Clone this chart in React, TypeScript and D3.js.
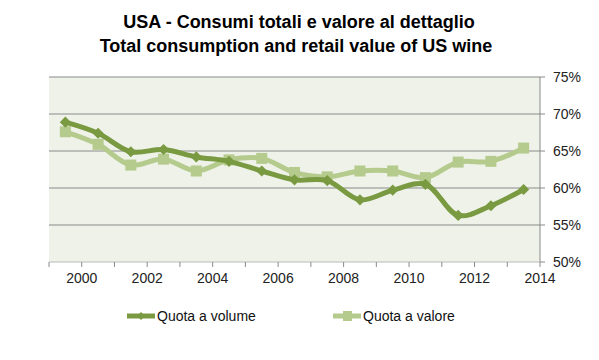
import React from "react";
import * as d3 from "d3";

// years (points sit in the middle of each year band)
const years = [1999, 2000, 2001, 2002, 2003, 2004, 2005, 2006, 2007, 2008, 2009, 2010, 2011, 2012, 2013];
const volume = [68.9, 67.4, 64.9, 65.2, 64.2, 63.6, 62.3, 61.1, 61.0, 58.4, 59.7, 60.5, 56.3, 57.6, 59.8];
const value = [67.6, 65.9, 63.1, 63.9, 62.3, 63.8, 64.0, 62.1, 61.5, 62.3, 62.3, 61.4, 63.5, 63.6, 65.4];
const yTicks = [50, 55, 60, 65, 70, 75];
const xLabels = [2000, 2002, 2004, 2006, 2008, 2010, 2012, 2014];
const seriesNames = ["Quota a volume", "Quota a valore"];

const darkCol = "#7A9A42";
const lightCol = "#B5CB8D";
const bgCol = "#EEF2E8";
const gridCol = "#8A8A8A";

export default function App() {
  const width = 599;
  const height = 360;
  const plot = {left: 49, right: 540, top: 77, bottom: 262};

  const x = d3.scaleLinear().domain([1999, 2014]).range([plot.left, plot.right]);
  const y = d3.scaleLinear().domain([50, 75]).range([plot.bottom, plot.top]);

  const line = d3.line<number>()
    .x((d, i) => x(years[i] + 0.5))
    .y((d) => y(d))
    .curve(d3.curveCatmullRom.alpha(0.5));

  const diamond = d3.symbol().type(d3.symbolDiamond2).size(80)();
  const sq = 11;

  const font = "'Liberation Sans', Arial, sans-serif";
  const allYears = d3.range(1999, 2015);

  return (
    <svg width={width} height={height} style={{position: "absolute", left: 0, top: 0, background: "#fff"}}>
      <g fontFamily="'Liberation Sans Narrow', 'Arial Narrow', 'Liberation Sans', sans-serif" fontWeight="bold" fontSize={18} textAnchor="middle" fill="#000">
        <text x={299} y={28}>USA - Consumi totali e valore al dettaglio</text>
        <text x={296} y={52}>Total consumption and retail value of US wine</text>
      </g>

      <rect x={plot.left} y={plot.top} width={plot.right - plot.left} height={plot.bottom - plot.top} fill={bgCol} />

      {/* gridlines */}
      {yTicks.filter((t) => t > 50).map((t) => (
        <line key={t} x1={plot.left} x2={plot.right} y1={y(t)} y2={y(t)} stroke={gridCol} strokeWidth={1} />
      ))}

      {/* right axis */}
      <line x1={plot.right} x2={plot.right} y1={plot.top} y2={plot.bottom} stroke={gridCol} />
      {yTicks.map((t) => (
        <g key={t}>
          <line x1={plot.right} x2={plot.right + 5} y1={y(t)} y2={y(t)} stroke={gridCol} />
          <text x={553} y={y(t)} dy="0.35em" fontFamily={font} fontSize={14} fill="#222">{t}%</text>
        </g>
      ))}

      {/* bottom axis */}
      <line x1={plot.left} x2={plot.right} y1={plot.bottom} y2={plot.bottom} stroke="#bbb" />
      {allYears.map((yr) => (
        <line key={yr} x1={x(yr)} x2={x(yr)} y1={plot.bottom} y2={plot.bottom + 5} stroke={gridCol} />
      ))}
      {xLabels.map((yr) => (
        <text key={yr} x={x(yr)} y={283} textAnchor="middle" fontFamily={font} fontSize={14} fill="#222">{yr}</text>
      ))}

      {/* series */}
      <path d={line(value) || ""} fill="none" stroke={lightCol} strokeWidth={5} strokeLinejoin="round" />
      {value.map((v, i) => (
        <rect key={i} x={x(years[i] + 0.5) - sq / 2} y={y(v) - sq / 2} width={sq} height={sq} fill={lightCol} />
      ))}
      <path d={line(volume) || ""} fill="none" stroke={darkCol} strokeWidth={5} strokeLinejoin="round" />
      {volume.map((v, i) => (
        <path key={i} d={diamond || ""} transform={`translate(${x(years[i] + 0.5)},${y(v)})`} fill={darkCol} />
      ))}

      {/* legend */}
      <g fontFamily={font} fontSize={14} fill="#111">
        <line x1={127} x2={155} y1={316} y2={316} stroke={darkCol} strokeWidth={5} />
        <path d={d3.symbol().type(d3.symbolDiamond2).size(40)() || ""} transform="translate(141,316)" fill={darkCol} />
        <text x={157} y={316} dy="0.35em">{seriesNames[0]}</text>
        <line x1={333} x2={361} y1={316} y2={316} stroke={lightCol} strokeWidth={5} />
        <rect x={343} y={311} width={9} height={10} fill={lightCol} />
        <text x={363} y={316} dy="0.35em">{seriesNames[1]}</text>
      </g>
    </svg>
  );
}
